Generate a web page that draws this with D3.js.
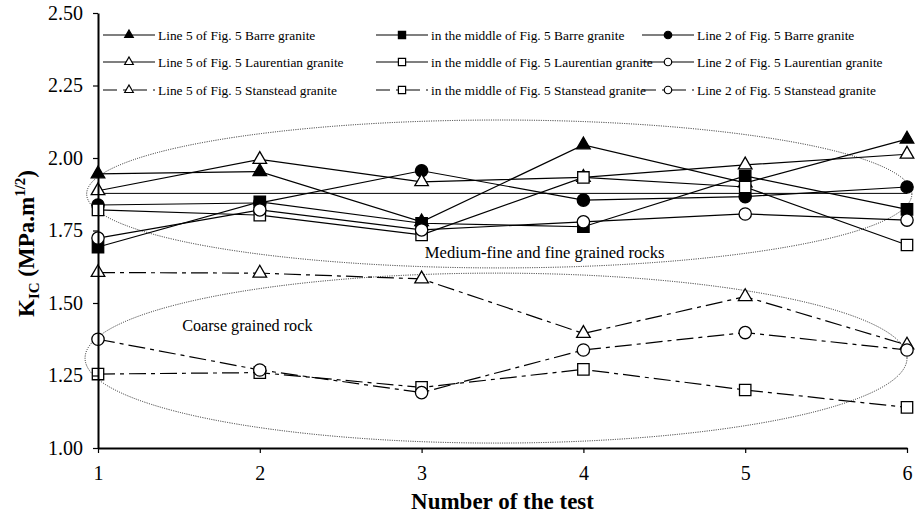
<!DOCTYPE html>
<html>
<head>
<meta charset="utf-8">
<script src="https://cdnjs.cloudflare.com/ajax/libs/d3/7.8.5/d3.min.js"></script>
<style>
body { margin: 0; background: #fff; }
text { font-family: "Liberation Serif", "Times New Roman", serif; }
</style>
</head>
<body>
<div id="chart"></div>
<script>
// test number on the x axis
var tests = [1, 2, 3, 4, 5, 6];
var yTicks = [1.00, 1.25, 1.50, 1.75, 2.00, 2.25, 2.50];

// KIC values
var barreLine5 = [1.945, 1.953, 1.78, 2.045, 1.914, 2.065];
var barreMiddle = [1.693, 1.849, 1.775, 1.763, 1.938, 1.823];
var barreLine2 = [1.838, 1.845, 1.956, 1.855, 1.867, 1.90];
var laurLine5 = [1.887, 1.995, 1.918, 1.933, 1.976, 2.013];
var laurMiddle = [1.821, 1.803, 1.735, 1.933, 1.90, 1.70];
var laurLine2 = [1.724, 1.821, 1.752, 1.78, 1.807, 1.786];
var stanLine5 = [1.605, 1.603, 1.583, 1.395, 1.522, 1.355];
var stanMiddle = [1.255, 1.26, 1.209, 1.271, 1.20, 1.14];
var stanLine2 = [1.375, 1.269, 1.191, 1.338, 1.398, 1.338];

// thin horizontal line crossing the plot
var refLevel = 1.878;

var seriesNames = [
	"Line 5 of Fig. 5 Barre granite",
	"in the middle of Fig. 5 Barre granite",
	"Line 2 of Fig. 5 Barre granite",
	"Line 5 of Fig. 5 Laurentian granite",
	"in the middle of Fig. 5 Laurentian granite",
	"Line 2 of Fig. 5 Laurentian granite",
	"Line 5 of Fig. 5 Stanstead granite",
	"in the middle of Fig. 5 Stanstead granite",
	"Line 2 of Fig. 5 Stanstead granite"
];

// ellipse annotations in data units: [cx, cy, rx, ry]
var fineEllipse = [3.48, 1.876, 2.55, 0.255];
var coarseEllipse = [3.46, 1.31, 2.54, 0.293];

var margin = {top: 13, right: 11, bottom: 71, left: 98},
	width = 918 - margin.left - margin.right,
	height = 519 - margin.top - margin.bottom;

var series = [
	{name: seriesNames[0], values: barreLine5, shape: d3.symbolTriangle, filled: true, dash: null},
	{name: seriesNames[1], values: barreMiddle, shape: d3.symbolSquare, filled: true, dash: null},
	{name: seriesNames[2], values: barreLine2, shape: d3.symbolCircle, filled: true, dash: null},
	{name: seriesNames[3], values: laurLine5, shape: d3.symbolTriangle, filled: false, dash: null},
	{name: seriesNames[4], values: laurMiddle, shape: d3.symbolSquare, filled: false, dash: null},
	{name: seriesNames[5], values: laurLine2, shape: d3.symbolCircle, filled: false, dash: null},
	{name: seriesNames[6], values: stanLine5, shape: d3.symbolTriangle, filled: false, dash: "17,5,4,5"},
	{name: seriesNames[7], values: stanMiddle, shape: d3.symbolSquare, filled: false, dash: "17,5,4,5"},
	{name: seriesNames[8], values: stanLine2, shape: d3.symbolCircle, filled: false, dash: "17,5,4,5"}
];

function symSize(shape, big) {
	if (shape === d3.symbolTriangle) return big ? 80 : 32;
	if (shape === d3.symbolSquare) return big ? 130 : 52;
	return big ? 120 : 44;
}

var x = d3.scaleLinear().domain([1, 6]).range([0, width]);
var y = d3.scaleLinear().domain([1, 2.5]).range([height, 0]);

var svg = d3.select("#chart").append("svg")
	.attr("width", width + margin.left + margin.right)
	.attr("height", height + margin.top + margin.bottom)
	.append("g")
	.attr("transform", "translate(" + margin.left + "," + margin.top + ")");

// dotted ellipses
[fineEllipse, coarseEllipse].forEach(function(e) {
	svg.append("ellipse")
		.attr("cx", x(e[0]))
		.attr("cy", y(e[1]))
		.attr("rx", x(1 + e[2]) - x(1))
		.attr("ry", y(1) - y(1 + e[3]))
		.attr("fill", "none")
		.attr("stroke", "#222")
		.attr("stroke-width", 1)
		.attr("stroke-dasharray", "1,1.3");
});

svg.append("line")
	.attr("x1", x(1)).attr("x2", x(6))
	.attr("y1", y(refLevel)).attr("y2", y(refLevel))
	.attr("stroke", "#000")
	.attr("stroke-width", 1);

var line = d3.line()
	.x(function(d, i) { return x(tests[i]); })
	.y(function(d) { return y(d); });

series.forEach(function(s) {
	svg.append("path")
		.datum(s.values)
		.attr("d", line)
		.attr("fill", "none")
		.attr("stroke", "#000")
		.attr("stroke-width", 1.2)
		.attr("stroke-dasharray", s.dash);
});

series.forEach(function(s) {
	svg.selectAll(null)
		.data(s.values)
		.enter().append("path")
		.attr("d", d3.symbol().type(s.shape).size(symSize(s.shape, true)))
		.attr("transform", function(d, i) { return "translate(" + x(tests[i]) + "," + y(d) + ")"; })
		.attr("fill", s.filled ? "#000" : "#fff")
		.attr("stroke", "#000")
		.attr("stroke-width", 1.3);
});

// axes
var xAxis = svg.append("g")
	.attr("font-family", null)
	.attr("transform", "translate(0," + height + ")")
	.call(d3.axisBottom(x).tickValues(tests).tickFormat(d3.format("d")).tickSize(5).tickSizeOuter(0).tickPadding(13));
var yAxis = svg.append("g")
	.call(d3.axisLeft(y).tickValues(yTicks).tickFormat(d3.format(".2f")).tickSize(5).tickSizeOuter(0).tickPadding(10));
[xAxis, yAxis].forEach(function(a) {
	a.attr("font-family", null).attr("font-size", null);
	a.select(".domain").attr("stroke-width", 2);
	a.selectAll(".tick line").attr("stroke-width", 1.2);
	a.selectAll("text")
		.style("font-family", '"Liberation Serif", "Times New Roman", serif')
		.style("font-size", "20px")
		.attr("fill", "#000");
});

// legend
var legendCols = [5, 278, 544];
var legendRows = [22, 49, 77];
series.forEach(function(s, i) {
	var g = svg.append("g")
		.attr("transform", "translate(" + legendCols[i % 3] + "," + legendRows[Math.floor(i / 3)] + ")");
	g.append("line")
		.attr("x1", 0).attr("x2", 52)
		.attr("stroke", "#000")
		.attr("stroke-width", 1.2)
		.attr("stroke-dasharray", s.dash ? "14,6,4,6" : null);
	g.append("path")
		.attr("d", d3.symbol().type(s.shape).size(symSize(s.shape, false)))
		.attr("transform", "translate(26,0)")
		.attr("fill", s.filled ? "#000" : "#fff")
		.attr("stroke", "#000")
		.attr("stroke-width", 1.2);
	g.append("text")
		.attr("x", 55)
		.attr("y", 4.5)
		.style("font-size", "13.4px")
		.text(s.name);
});

// region labels
svg.append("text")
	.attr("x", x(3.02))
	.attr("y", y(1.655))
	.style("font-size", "16.6px")
	.text("Medium-fine and fine grained rocks");
svg.append("text")
	.attr("x", x(1.52))
	.attr("y", y(1.405))
	.style("font-size", "16.2px")
	.text("Coarse grained rock");

// axis titles
svg.append("text")
	.attr("x", width / 2)
	.attr("y", height + 61)
	.attr("text-anchor", "middle")
	.style("font-size", "23px")
	.style("font-weight", "bold")
	.text("Number of the test");

var yTitle = svg.append("text")
	.attr("transform", "translate(-64," + (height / 2 + 13) + ") rotate(-90)")
	.attr("text-anchor", "middle")
	.style("font-size", "23px")
	.style("font-weight", "bold");
yTitle.append("tspan").text("K");
yTitle.append("tspan").attr("dy", 5).style("font-size", "15px").text("IC");
yTitle.append("tspan").attr("dy", -5).text(" (MPa.m");
yTitle.append("tspan").attr("dy", -9).style("font-size", "15px").text("1/2");
yTitle.append("tspan").attr("dy", 9).text(")");
</script>
</body>
</html>
